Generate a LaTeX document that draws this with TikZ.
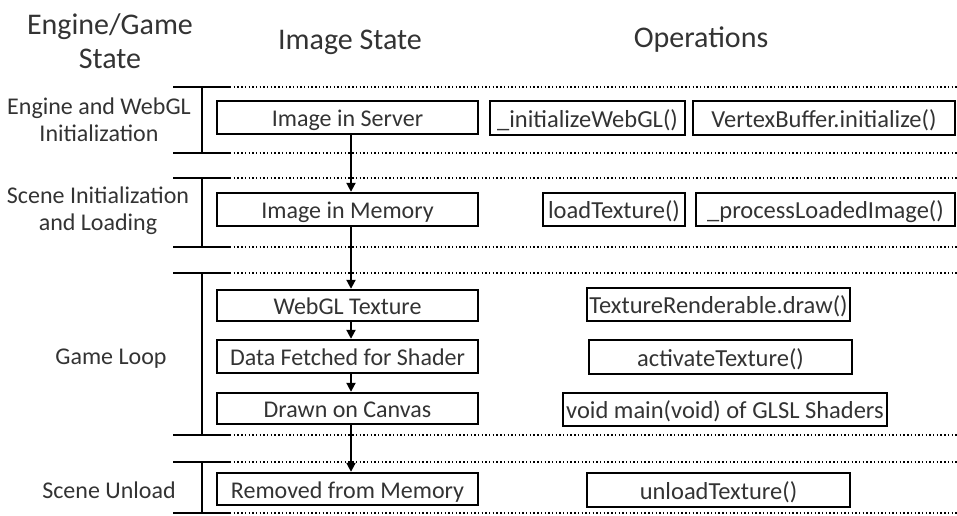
\documentclass[tikz,border=0pt]{standalone}
\usepackage{fontspec}
\setmainfont{Carlito}
\usetikzlibrary{arrows.meta}
\begin{document}
\begin{tikzpicture}[x=1pt,y=-1pt,
  statebox/.style={draw,line width=2.4pt,inner sep=0pt,text height=19pt,text depth=1pt,font=\fontsize{24}{26}\selectfont,text=black!80},
  opbox/.style={draw,line width=2.4pt,inner sep=0pt,text height=19pt,text depth=1pt,font=\fontsize{24.5}{26}\selectfont,text=black!80},
  head/.style={font=\fontsize{30}{34}\selectfont,text=black!80,align=center},
  lab/.style={font=\fontsize{24}{27}\selectfont,text=black!80,align=center},
  solidline/.style={line width=2.6pt},
  dotline/.style={line width=2pt,dash pattern=on 1.4pt off 2.3pt},
  flow/.style={line width=2pt,-{Triangle[length=9pt,width=9pt]}}]
\useasboundingbox (0,0) rectangle (957,515);
% headers
\node[head] (h1) at (110,41) {Engine/Game\\State};
\node[head] (h2) at (350,42) {Image State};
\node[head] (h3) at (701,40) {Operations};
% group brackets
\foreach \t/\b/\n in {87/153/g1,178/247/g2,273/435/g3,462/513/g4}{
  \coordinate (\n tl) at (173,\t); \coordinate (\n tm) at (230,\t); \coordinate (\n tr) at (957,\t);
  \coordinate (\n bl) at (173,\b); \coordinate (\n bm) at (230,\b); \coordinate (\n br) at (957,\b);
  \coordinate (\n vt) at (202,\t); \coordinate (\n vb) at (202,\b);
  \draw[solidline] (\n tl) -- (\n tm);
  \draw[solidline] (\n bl) -- (\n bm);
  \draw[solidline] (\n vt) -- (\n vb);
  \draw[dotline] (\n tm) -- (\n tr);
  \draw[dotline] (\n bm) -- (\n br);
}
% left labels
\node[lab] (l1) at (99,120) {Engine and WebGL\\Initialization};
\node[lab] (l2) at (98,211) {Scene Initialization\\and Loading};
\node[lab] (l3) at (111,359) {Game Loop};
\node[lab] (l4) at (109,490) {Scene Unload};
% state boxes
\node[statebox,minimum width=261pt,minimum height=33pt] (b1) at (347.5,117.5) {Image in Server};
\node[statebox,minimum width=261pt,minimum height=33pt] (b2) at (347.5,209.5) {Image in Memory};
\node[statebox,minimum width=261pt,minimum height=31pt] (b3) at (347.5,305.5) {WebGL Texture};
\node[statebox,minimum width=261pt,minimum height=33pt] (b4) at (347.5,356.5) {Data Fetched for Shader};
\node[statebox,minimum width=261pt,minimum height=31pt] (b5) at (347.5,408.5) {Drawn on Canvas};
\node[statebox,minimum width=261pt,minimum height=32pt] (b6) at (347.5,489) {Removed from Memory};
% operation boxes
\node[opbox,minimum width=195pt,minimum height=34pt] (o1) at (587.5,118) {\_initializeWebGL()};
\node[opbox,minimum width=262pt,minimum height=34pt] (o2) at (824,118) {VertexBuffer.initialize()};
\node[opbox,minimum width=142pt,minimum height=33pt] (o3) at (614,209.5) {loadTexture()};
\node[opbox,minimum width=259pt,minimum height=33pt] (o4) at (825.5,209.5) {\_processLoadedImage()};
\node[opbox,minimum width=263pt,minimum height=33pt] (o5) at (718.5,304.5) {TextureRenderable.draw()};
\node[opbox,minimum width=263pt,minimum height=34pt] (o6) at (720.5,357) {activateTexture()};
\node[opbox,minimum width=324pt,minimum height=33pt] (o7) at (725,409.5) {void main(void) of GLSL Shaders};
\node[opbox,minimum width=263pt,minimum height=34pt] (o8) at (718.5,490) {unloadTexture()};
% flow arrows
\coordinate (ax) at (351,0);
\draw[flow] (b1.south -| ax) -- (b2.north -| ax);
\draw[flow] (b2.south -| ax) -- (b3.north -| ax);
\draw[flow] (b3.south -| ax) -- (b4.north -| ax);
\draw[flow] (b4.south -| ax) -- (b5.north -| ax);
\draw[flow] (b5.south -| ax) -- (b6.north -| ax);
\end{tikzpicture}
\end{document}
